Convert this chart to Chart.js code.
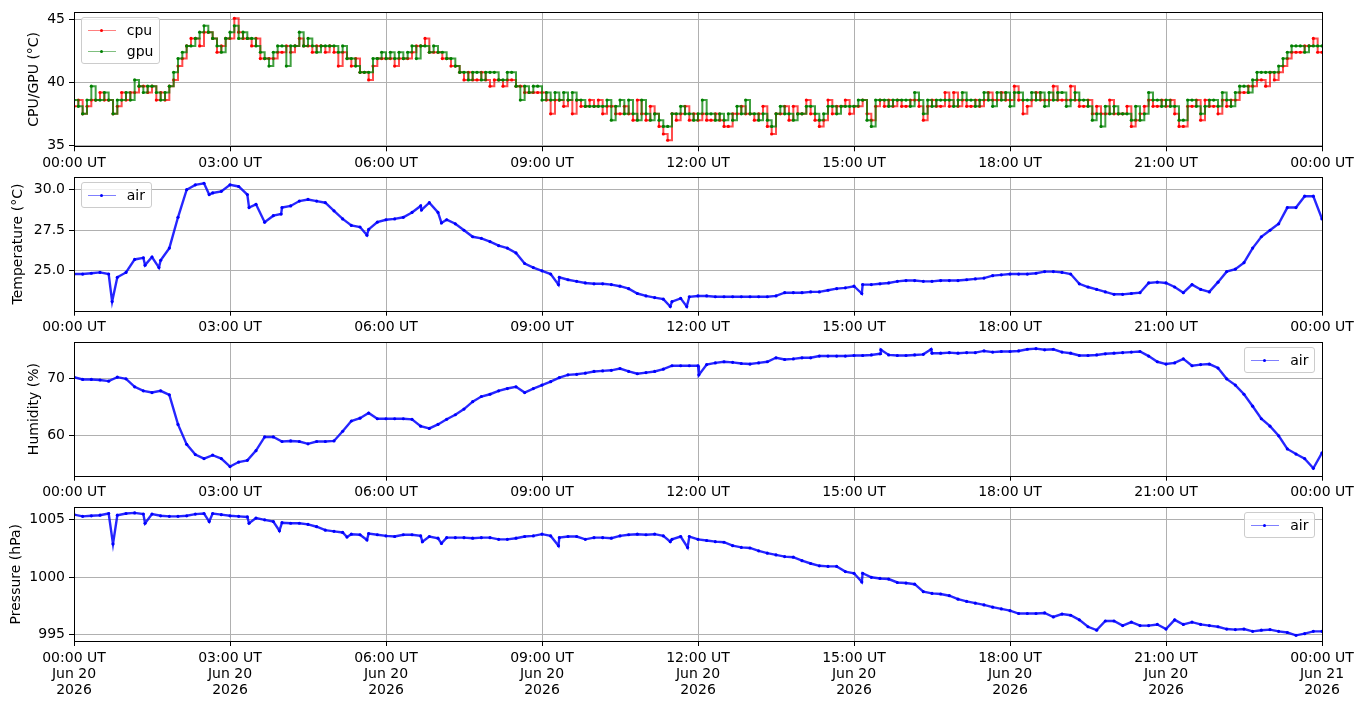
<!DOCTYPE html>
<html>
<head>
<meta charset="utf-8">
<title>Pi sensors</title>
<script src="https://cdn.jsdelivr.net/npm/chart.js@4.4.1/dist/chart.umd.min.js"></script>
<style>
  body { margin: 0; background: #fff; width: 1363px; height: 707px; position: relative; overflow: hidden; font-family: 'DejaVu Sans', sans-serif; }
  .wrap { position: absolute; left: 0; width: 1363px; }
  .lg { position: absolute; z-index: 5; border: 1px solid #cccccc; border-radius: 3px; background: rgba(255,255,255,0.8);
        padding: 5px 5.6px; font: 14px 'DejaVu Sans', sans-serif; color: #000; }
  .lg .row { display: flex; align-items: center; height: 14px; line-height: 14px; white-space: nowrap; }
  .lg .row + .row { margin-top: 7px; }
  .lg .h { position: relative; width: 28px; height: 14px; margin-right: 11.2px; }
  .lg .h::before { content: ''; position: absolute; left: 0; right: 0; top: 7px; height: 1px; background: var(--lc); }
  .lg .h::after { content: ''; position: absolute; left: 12.5px; top: 6px; width: 3px; height: 3px; border-radius: 50%; background: var(--mc); }
</style>
</head>
<body>
<div class="wrap" id="p1"><canvas></canvas></div>
<div class="wrap" id="p2"><canvas></canvas></div>
<div class="wrap" id="p3"><canvas></canvas></div>
<div class="wrap" id="p4"><canvas></canvas></div>

<div class="lg" style="left:81px; top:17px;">
  <div class="row"><span class="h" style="--lc:rgba(255,0,0,0.5); --mc:#ff0000;"></span>cpu</div>
  <div class="row"><span class="h" style="--lc:rgba(0,128,0,0.5); --mc:#008000;"></span>gpu</div>
</div>
<div class="lg" style="left:81px; top:182px;">
  <div class="row"><span class="h" style="--lc:rgba(0,0,255,0.5); --mc:#0000ff;"></span>air</div>
</div>
<div class="lg" style="right:48px; top:347px;">
  <div class="row"><span class="h" style="--lc:rgba(0,0,255,0.5); --mc:#0000ff;"></span>air</div>
</div>
<div class="lg" style="right:48px; top:512px;">
  <div class="row"><span class="h" style="--lc:rgba(0,0,255,0.5); --mc:#0000ff;"></span>air</div>
</div>

<script>
// x axis: minutes since 00:00 UT, Jun 20 2026
const hourTicks = [0, 180, 360, 540, 720, 900, 1080, 1260, 1440];
const hourLabels = ['00:00 UT', '03:00 UT', '06:00 UT', '09:00 UT', '12:00 UT', '15:00 UT', '18:00 UT', '21:00 UT', '00:00 UT'];
const dayLabels = ['Jun 20', 'Jun 20', 'Jun 20', 'Jun 20', 'Jun 20', 'Jun 20', 'Jun 20', 'Jun 20', 'Jun 21'];
const yearLabels = ['2026', '2026', '2026', '2026', '2026', '2026', '2026', '2026', '2026'];

// cpu / gpu temperature, every 5 minutes (one row per hour)
const cpuStep = 5;
const cpuTemp = [
  38.1, 38.6, 37.5, 38.1, 38.6, 38.6, 39.2, 38.6, 38.6, 37.5, 38.1, 39.2,
  38.6, 39.2, 39.2, 39.7, 39.7, 39.2, 39.7, 38.6, 39.2, 38.6, 39.7, 40.2,
  41.3, 41.9, 42.9, 43.5, 43.5, 42.9, 44.0, 44.0, 43.5, 42.4, 42.9, 43.5,
  43.5, 45.1, 44.0, 43.5, 43.5, 42.9, 43.5, 41.9, 41.9, 41.9, 41.9, 42.4,
  42.4, 42.9, 42.4, 42.9, 43.5, 42.9, 42.9, 42.4, 42.9, 42.9, 42.4, 42.9,
  42.4, 41.3, 42.4, 41.9, 41.3, 41.9, 40.8, 40.8, 40.2, 41.3, 41.9, 41.9,
  41.9, 41.9, 41.3, 41.9, 41.9, 41.9, 42.4, 42.9, 42.9, 43.5, 42.4, 42.4,
  42.4, 41.9, 41.9, 41.3, 41.3, 40.8, 40.2, 40.8, 40.2, 40.2, 40.8, 40.2,
  39.7, 40.2, 40.2, 39.7, 40.2, 40.2, 39.7, 39.7, 39.2, 39.2, 39.2, 39.2,
  39.2, 38.6, 37.5, 38.6, 38.6, 38.1, 38.6, 37.5, 38.6, 38.1, 38.1, 38.6,
  38.1, 38.6, 37.5, 38.1, 38.1, 37.5, 37.5, 38.1, 37.5, 37.0, 38.6, 37.5,
  37.0, 38.1, 37.5, 36.5, 35.9, 35.4, 37.5, 37.0, 37.5, 38.1, 37.0, 37.5,
  37.0, 37.5, 37.0, 37.0, 37.5, 37.0, 36.5, 36.5, 37.5, 37.5, 38.1, 37.5,
  37.5, 37.0, 37.5, 38.1, 36.5, 35.9, 37.5, 37.5, 38.1, 37.0, 38.1, 37.5,
  37.5, 38.6, 37.5, 37.0, 36.5, 37.0, 38.6, 37.5, 38.1, 38.1, 38.6, 37.5,
  38.1, 38.1, 38.6, 37.5, 37.0, 38.1, 38.6, 38.1, 38.6, 38.1, 38.6, 38.1,
  38.1, 38.6, 38.6, 38.1, 37.0, 38.1, 38.6, 38.1, 38.1, 39.2, 38.1, 39.2,
  38.1, 38.6, 38.1, 38.1, 38.6, 38.1, 38.6, 39.2, 38.6, 38.6, 39.2, 38.6,
  38.6, 39.7, 38.6, 37.5, 38.1, 38.6, 39.2, 38.6, 38.6, 38.6, 39.7, 38.6,
  38.6, 38.6, 39.7, 38.6, 38.1, 38.1, 38.6, 37.5, 38.1, 37.5, 37.5, 38.6,
  37.5, 37.5, 37.5, 38.1, 36.5, 37.0, 37.5, 38.1, 38.6, 38.1, 38.1, 38.6,
  38.1, 38.6, 37.5, 36.5, 36.5, 38.1, 38.1, 38.6, 37.0, 38.6, 38.1, 38.1,
  37.5, 38.6, 38.1, 38.6, 38.6, 39.2, 39.2, 39.7, 39.7, 40.2, 40.2, 39.7,
  40.8, 40.2, 40.8, 41.3, 41.9, 42.4, 42.4, 42.4, 42.9, 42.9, 43.5, 42.4,
  42.4
];
const gpuTemp = [
  38.6, 38.1, 37.5, 38.6, 39.7, 38.6, 38.6, 39.2, 38.6, 37.5, 38.6, 38.6,
  39.2, 38.6, 40.2, 39.7, 39.2, 39.7, 39.7, 39.2, 38.6, 39.2, 39.7, 40.8,
  41.9, 42.4, 42.9, 42.9, 43.5, 44.0, 44.5, 44.0, 43.5, 42.9, 42.4, 43.5,
  44.0, 44.5, 43.5, 44.0, 43.5, 43.5, 42.9, 42.4, 41.9, 41.3, 42.4, 42.9,
  42.9, 41.3, 42.9, 42.9, 44.0, 42.9, 43.5, 42.9, 42.4, 42.9, 42.9, 42.9,
  42.9, 42.4, 42.9, 41.9, 41.9, 41.3, 40.8, 40.8, 40.8, 41.9, 41.9, 42.4,
  41.9, 42.4, 41.9, 42.4, 41.9, 42.4, 42.9, 41.9, 42.9, 42.9, 42.4, 42.9,
  42.4, 42.4, 41.9, 41.9, 41.3, 40.8, 40.8, 40.2, 40.8, 40.8, 40.2, 40.8,
  40.8, 40.8, 40.2, 40.2, 40.8, 40.8, 39.7, 38.6, 39.7, 39.2, 39.7, 39.7,
  38.6, 39.2, 38.6, 39.2, 38.6, 39.2, 38.6, 39.2, 38.6, 38.6, 38.1, 38.1,
  38.1, 38.1, 38.1, 38.6, 37.0, 38.1, 38.6, 37.5, 38.6, 37.5, 37.0, 38.6,
  37.5, 37.0, 37.5, 37.0, 36.5, 36.5, 37.5, 37.5, 38.1, 37.5, 37.5, 37.0,
  37.5, 38.6, 37.5, 37.5, 37.0, 37.5, 37.0, 37.5, 37.0, 38.1, 37.5, 38.6,
  37.5, 37.5, 37.0, 37.5, 37.0, 36.5, 37.5, 38.1, 37.5, 37.5, 37.0, 37.5,
  37.5, 38.1, 38.1, 37.5, 37.0, 37.5, 38.1, 38.1, 37.5, 38.1, 38.1, 38.1,
  38.1, 38.6, 38.6, 37.0, 36.5, 38.6, 38.6, 38.6, 38.1, 38.6, 38.6, 38.6,
  38.6, 38.1, 39.2, 38.6, 37.5, 38.6, 38.1, 38.6, 38.6, 38.6, 38.6, 38.1,
  38.6, 39.2, 38.6, 38.6, 38.1, 38.6, 39.2, 38.6, 38.1, 39.2, 38.6, 39.2,
  38.1, 39.2, 39.2, 38.6, 38.6, 39.2, 38.6, 39.2, 38.1, 39.2, 38.6, 39.2,
  39.2, 38.1, 38.6, 39.2, 38.6, 38.6, 38.1, 37.0, 37.5, 36.5, 38.1, 37.5,
  38.1, 37.5, 37.5, 37.5, 37.0, 38.1, 37.0, 37.5, 39.2, 38.6, 38.6, 38.1,
  38.6, 38.1, 38.1, 37.0, 37.0, 38.6, 38.6, 38.1, 37.5, 38.1, 38.6, 38.6,
  38.1, 39.2, 38.6, 38.1, 39.2, 39.7, 39.7, 39.2, 40.2, 40.8, 40.8, 40.8,
  40.8, 40.8, 41.3, 41.9, 42.4, 42.9, 42.9, 42.9, 42.4, 42.9, 42.9, 42.9,
  42.9
];

// air sensor, every 10 minutes (one row per 2 hours)
const airStep = 10;
const airTemp = [
  24.8, 24.8, 24.85, 24.9, 24.8, 24.6, 24.9, 25.7, 25.8, 25.85, 25.65, 26.4,
  28.3, 30.0, 30.3, 30.4, 29.8, 29.9, 30.3, 30.2, 29.7, 29.1, 28.0, 28.4,
  28.9, 29.0, 29.3, 29.4, 29.3, 29.2, 28.7, 28.2, 27.8, 27.7, 27.55, 28.0,
  28.15, 28.2, 28.3, 28.6, 29.0, 29.2, 28.6, 28.15, 27.9, 27.5, 27.1, 27.0,
  26.8, 26.55, 26.4, 26.1, 25.45, 25.2, 25.0, 24.8, 24.6, 24.45, 24.35, 24.25,
  24.2, 24.2, 24.15, 24.05, 23.9, 23.6, 23.45, 23.35, 23.25, 23.1, 23.3, 23.4,
  23.45, 23.45, 23.4, 23.4, 23.4, 23.4, 23.4, 23.4, 23.4, 23.45, 23.65, 23.65,
  23.65, 23.7, 23.7, 23.8, 23.9, 23.95, 24.05, 24.15, 24.15, 24.2, 24.25, 24.35,
  24.4, 24.4, 24.35, 24.35, 24.4, 24.4, 24.4, 24.45, 24.5, 24.55, 24.7, 24.75,
  24.8, 24.8, 24.8, 24.85, 24.95, 24.95, 24.9, 24.8, 24.2, 24.0, 23.85, 23.7,
  23.55, 23.55, 23.6, 23.65, 24.25, 24.3, 24.25, 24.0, 23.65, 24.15, 23.85, 23.7,
  24.3, 24.95, 25.1, 25.5, 26.4, 27.1, 27.5, 27.9, 28.9, 28.9, 29.6, 29.6,
  28.2
];
const airHum = [
  70.2, 69.8, 69.8, 69.7, 69.5, 70.2, 69.9, 68.5, 67.8, 67.5, 67.8, 67.1,
  61.9, 58.4, 56.6, 55.9, 56.5, 55.9, 54.5, 55.3, 55.6, 57.3, 59.7, 59.7,
  58.9, 59.0, 58.9, 58.5, 58.9, 58.9, 59.0, 60.7, 62.5, 63.0, 63.9, 62.9,
  62.9, 62.9, 62.9, 62.8, 61.6, 61.2, 61.9, 62.8, 63.6, 64.6, 65.9, 66.8,
  67.2, 67.8, 68.2, 68.5, 67.5, 68.2, 68.8, 69.4, 70.1, 70.6, 70.7, 70.9,
  71.2, 71.3, 71.4, 71.7, 71.2, 70.8, 71.0, 71.2, 71.6, 72.2, 72.2, 72.2,
  72.2, 72.4, 72.7, 72.9, 72.8, 72.6, 72.5, 72.7, 72.9, 73.6, 73.3, 73.4,
  73.6, 73.6, 73.9, 73.9, 73.9, 73.9, 74.0, 74.0, 74.1, 74.3, 74.1, 74.0,
  74.0, 74.1, 74.2, 74.4, 74.4, 74.5, 74.4, 74.5, 74.5, 74.8, 74.6, 74.7,
  74.7, 74.8, 75.1, 75.2, 75.0, 75.1, 74.6, 74.4, 74.0, 74.0, 74.1, 74.3,
  74.4, 74.5, 74.6, 74.7, 73.9, 72.9, 72.5, 72.7, 73.4, 72.2, 72.4, 72.5,
  71.8, 69.9, 68.8, 67.2, 65.1, 62.9, 61.6, 59.9, 57.6, 56.7, 55.9, 54.2,
  56.9
];
const airPres = [
  1005.45, 1005.3, 1005.35, 1005.4, 1005.55, 1005.4, 1005.55, 1005.6, 1005.5, 1005.5, 1005.35, 1005.3,
  1005.3, 1005.35, 1005.5, 1005.55, 1005.55, 1005.45, 1005.35, 1005.3, 1005.25, 1005.15, 1005.0, 1004.85,
  1004.75, 1004.7, 1004.7, 1004.6, 1004.4, 1004.1, 1004.0, 1003.9, 1003.75, 1003.7, 1003.8, 1003.7,
  1003.6, 1003.55, 1003.7, 1003.7, 1003.6, 1003.55, 1003.4, 1003.45, 1003.45, 1003.45, 1003.4, 1003.45,
  1003.45, 1003.3, 1003.3, 1003.4, 1003.55, 1003.6, 1003.75, 1003.6, 1003.45, 1003.55, 1003.55, 1003.3,
  1003.45, 1003.45, 1003.4, 1003.6, 1003.7, 1003.75, 1003.7, 1003.75, 1003.6, 1003.3, 1003.55, 1003.55,
  1003.3, 1003.2, 1003.1, 1003.05, 1002.75, 1002.6, 1002.55, 1002.3, 1002.1, 1001.95, 1001.8, 1001.75,
  1001.45, 1001.2, 1001.0, 1000.95, 1000.95, 1000.5, 1000.35, 1000.35, 1000.0, 999.9, 999.85, 999.55,
  999.5, 999.4, 998.75, 998.6, 998.55, 998.4, 998.1, 997.9, 997.75, 997.6, 997.4, 997.25,
  997.1, 996.85, 996.85, 996.85, 996.9, 996.55, 996.8, 996.7, 996.3, 995.7, 995.4, 996.2,
  996.2, 995.8, 996.1, 995.8, 995.8, 995.9, 995.5, 996.3, 995.9, 996.1, 995.9, 995.8,
  995.7, 995.5, 995.45, 995.5, 995.3, 995.4, 995.45, 995.3, 995.2, 994.95, 995.1, 995.3,
  995.3
];

// single-sample dips / jumps between the 10-minute readings: [minute, value]
const airTempSpikes = [[44, 23.1], [82, 25.35], [98, 25.2], [156, 29.7], [202, 28.9], [239, 28.5], [338, 27.2],
  [401, 28.75], [424, 27.95], [559, 24.15], [688, 22.8], [707, 22.8], [909, 23.6]];
const airHumSpikes = [[721, 70.6], [931, 75.0], [989, 75.1]];
const airPresSpikes = [[45, 1002.9], [82, 1004.7], [156, 1004.85], [202, 1004.7], [237, 1004.05], [315, 1003.5],
  [338, 1003.25], [402, 1003.1], [424, 1002.95], [559, 1002.75], [688, 1003.1], [708, 1002.6], [909, 999.6]];

const cpuTicks = [35, 40, 45];
const tempTicks = [25, 27.5, 30];
const humTicks = [60, 70];
const presTicks = [995, 1000, 1005];

Chart.defaults.font.family = "'DejaVu Sans', sans-serif";
Chart.defaults.font.size = 14;
Chart.defaults.color = '#000';

function toPoints(vals, step, spikes) {
  const out = vals.map((v, i) => ({ x: i * step, y: v }));
  (spikes || []).forEach(s => out.push({ x: s[0], y: s[1] }));
  return out.sort((a, b) => a.x - b.x);
}

// black box round each axes, like matplotlib spines
const spines = {
  id: 'spines',
  afterDraw(chart) {
    const a = chart.chartArea, ctx = chart.ctx;
    ctx.save();
    ctx.strokeStyle = '#000';
    ctx.lineWidth = 1;
    const l = Math.round(a.left) + 0.5, t = Math.round(a.top) + 0.5;
    const r = Math.round(a.right) + 0.5, b = Math.round(a.bottom) + 0.5;
    ctx.strokeRect(l, t, r - l, b - t);
    ctx.restore();
  }
};

function makeAxes(id, top, height, xHeight, datasets, yMin, yMax, yTicks, yFmt, yTitle, titleX, withDates) {
  const wrap = document.getElementById(id);
  wrap.style.top = top + 'px';
  wrap.style.height = height + 'px';
  const cv = wrap.querySelector('canvas');
  cv.width = 1363; cv.height = height;
  cv.style.width = '1363px'; cv.style.height = height + 'px';
  const grid = { color: '#b0b0b0', lineWidth: 1, tickLength: 5, tickColor: '#000', tickWidth: 1 };
  return new Chart(cv, {
    type: 'line',
    data: { datasets: datasets },
    plugins: [spines],
    options: {
      responsive: false,
      animation: false,
      events: [],
      layout: { padding: { top: 9.7, right: 41, left: 0, bottom: 0 } },
      plugins: { legend: { display: false }, tooltip: { enabled: false } },
      scales: {
        x: {
          type: 'linear', min: 0, max: 1440,
          afterBuildTicks: s => { s.ticks = hourTicks.map(v => ({ value: v })); },
          afterFit: s => { s.height = xHeight; },
          ticks: {
            autoSkip: false, maxRotation: 0, padding: 4, color: '#000',
            font: { size: 14, lineHeight: 1.15 },
            callback: (v, i) => withDates ? [hourLabels[i], dayLabels[i], yearLabels[i]] : hourLabels[i]
          },
          grid: grid,
          border: { display: false }
        },
        y: {
          min: yMin, max: yMax,
          afterBuildTicks: s => { s.ticks = yTicks.map(v => ({ value: v })); },
          afterFit: s => { s.width = 74; },
          ticks: { padding: 4, color: '#000', font: { size: 14 }, callback: yFmt },
          title: { display: true, text: yTitle, color: '#000', font: { size: 14 }, padding: { top: titleX - 8.4, bottom: 0 } },
          grid: grid,
          border: { display: false }
        }
      }
    }
  });
}

function lineSet(label, points, line, mark, width, radius, order, stepped) {
  return {
    label: label, data: points, order: order,
    borderColor: line, borderWidth: width, stepped: stepped || false,
    pointRadius: radius, pointBackgroundColor: mark, pointBorderWidth: 0,
    tension: 0, fill: false
  };
}

// the pi reports quantised readings, so each one holds until the next sample
makeAxes('p1', 0, 172, 25.7, [
  lineSet('cpu', toPoints(cpuTemp, cpuStep), 'rgba(255,0,0,0.7)', '#ff0000', 2, 1.6, 1, 'before'),
  lineSet('gpu', toPoints(gpuTemp, cpuStep), 'rgba(0,128,0,0.75)', '#008000', 2, 1.6, 0, 'before')
], 34.92, 45.57, cpuTicks, v => String(v), 'CPU/GPU (°C)', 34, false);

makeAxes('p2', 165, 172, 26.3, [
  lineSet('air', toPoints(airTemp, airStep, airTempSpikes), 'rgba(0,0,255,0.85)', '#0000ff', 2.4, 1.6, 0)
], 22.54, 30.76, tempTicks, v => v.toFixed(1), 'Temperature (°C)', 18, false);

makeAxes('p3', 330, 172, 26.3, [
  lineSet('air', toPoints(airHum, airStep, airHumSpikes), 'rgba(0,0,255,0.85)', '#0000ff', 2.4, 1.6, 0)
], 52.9, 76.3, humTicks, v => String(v), 'Humidity (%)', 34, false);

makeAxes('p4', 495, 209, 63, [
  lineSet('air', toPoints(airPres, airStep, airPresSpikes), 'rgba(0,0,255,0.85)', '#0000ff', 2.4, 1.6, 0)
], 994.46, 1006.08, presTicks, v => String(v), 'Pressure (hPa)', 16, true);
</script>
</body>
</html>
